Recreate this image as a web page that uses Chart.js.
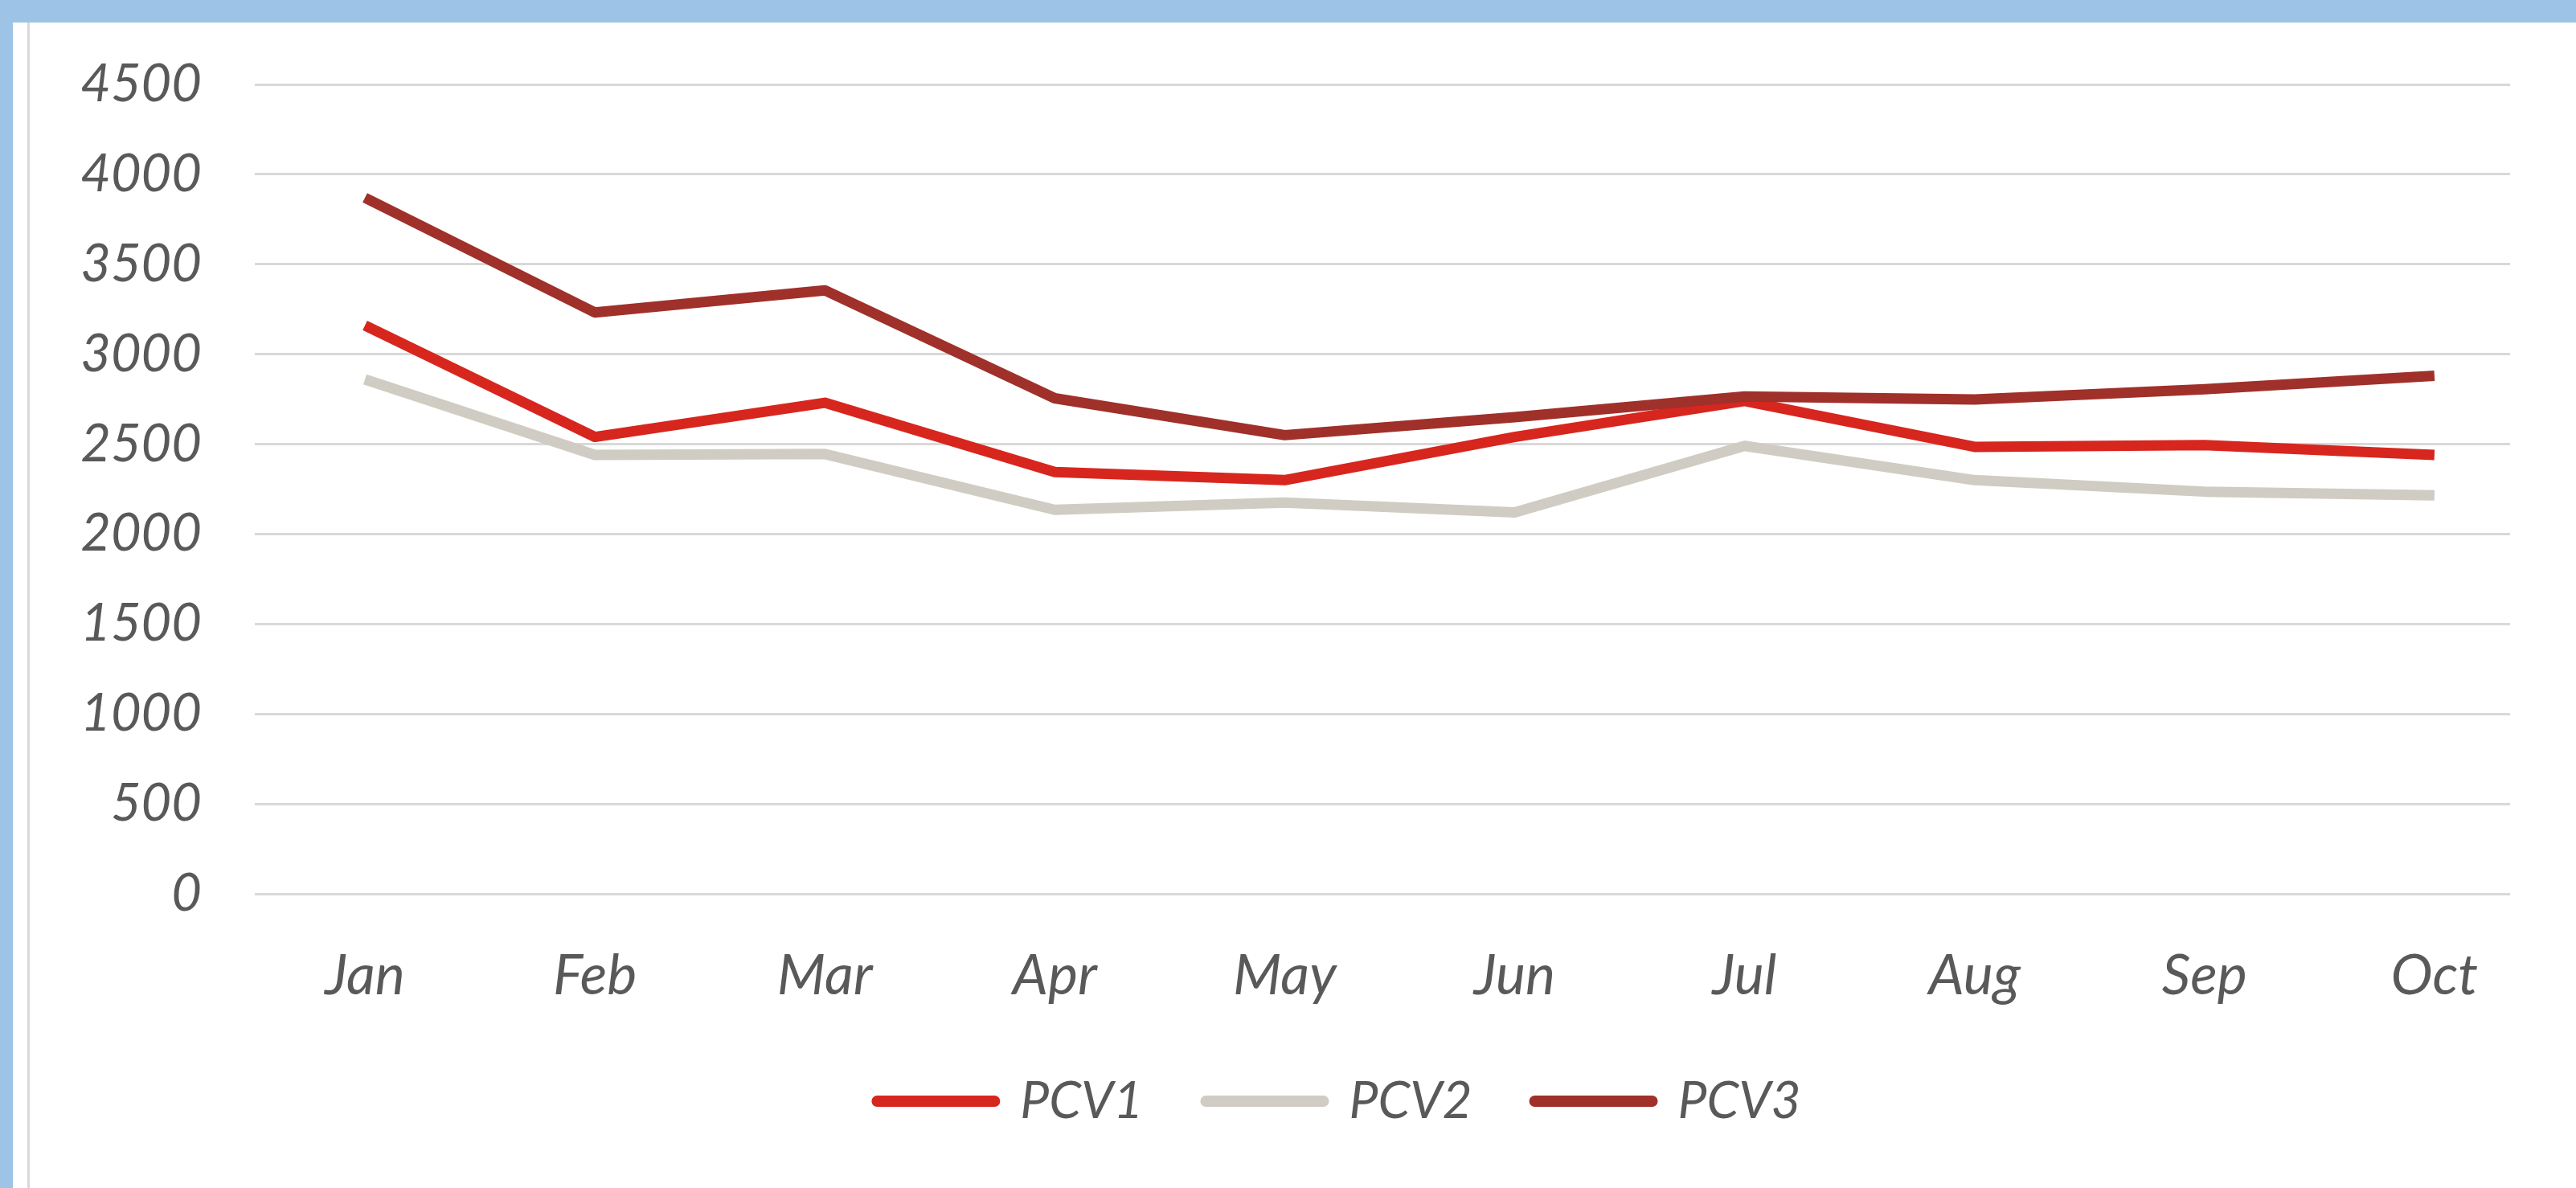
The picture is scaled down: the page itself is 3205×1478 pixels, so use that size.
<!DOCTYPE html>
<html>
<head>
<meta charset="utf-8">
<script src="https://cdn.jsdelivr.net/npm/chart.js@4.4.1/dist/chart.umd.min.js"></script>
<style>
  html, body { margin: 0; padding: 0; }
  body { width: 3205px; height: 1478px; background: #9DC3E6; position: relative; overflow: hidden; }
  #panel { position: absolute; left: 16px; top: 28px; right: 0; bottom: 0; background: #ffffff; }
  #vline { position: absolute; left: 34px; top: 28px; width: 3px; bottom: 0; background: #D9D9D9; }
  #wrap { position: absolute; left: 0; top: 0; width: 3205px; height: 1478px; }
</style>
</head>
<body>
<div id="panel"></div>
<div id="vline"></div>
<div id="wrap"><canvas id="c"></canvas></div>
<script>
const categories = ["Jan", "Feb", "Mar", "Apr", "May", "Jun", "Jul", "Aug", "Sep", "Oct"];
const pcv1 = [3160, 2540, 2730, 2345, 2300, 2540, 2740, 2485, 2495, 2440];
const pcv2 = [2860, 2440, 2445, 2135, 2175, 2120, 2490, 2300, 2236, 2215];
const pcv3 = [3870, 3232, 3355, 2755, 2550, 2650, 2765, 2748, 2805, 2880];
const seriesNames = ["PCV1", "PCV2", "PCV3"];
const yTicks = [0, 500, 1000, 1500, 2000, 2500, 3000, 3500, 4000, 4500];

const colors = ["#D7261E", "#D0CCC3", "#A0302A"];
const FONT = "Lato, 'Open Sans', sans-serif";

const shiftLegend = {
  id: 'shiftLegend',
  afterLayout(chart) {
    if (chart.legend) { chart.legend.left += 209; }
  }
};

new Chart(document.getElementById('c'), {
  type: 'line',
  plugins: [shiftLegend],
  data: {
    datasets: [pcv1, pcv2, pcv3].map((d, i) => ({
      label: seriesNames[i],
      data: d.map((v, k) => ({ x: k, y: v })),
      borderColor: colors[i],
      backgroundColor: colors[i],
      borderWidth: 13,
      borderCapStyle: 'butt',
      borderJoinStyle: 'round',
      pointRadius: 0,
      pointHoverRadius: 0,
      tension: 0,
      fill: false,
      order: 2 - i
    }))
  },
  options: {
    responsive: true,
    maintainAspectRatio: false,
    animation: false,
    devicePixelRatio: 1,
    layout: { padding: { top: 102, right: 82, bottom: 66, left: 0 } },
    plugins: {
      tooltip: { enabled: false },
      legend: {
        position: 'bottom',
        labels: {
          usePointStyle: true,
          pointStyleWidth: 146,
          boxHeight: 12,
          padding: 78,
          color: '#595959',
          font: { family: FONT, size: 64, style: 'italic' },
          sort: (a, b) => a.datasetIndex - b.datasetIndex,
          generateLabels: (chart) => chart.data.datasets.map((ds, i) => ({
            text: ds.label,
            fillStyle: ds.borderColor,
            strokeStyle: ds.borderColor,
            lineWidth: 14,
            lineCap: 'round',
            pointStyle: 'line',
            hidden: false,
            datasetIndex: i,
            fontColor: '#595959'
          }))
        }
      }
    },
    scales: {
      x: {
        type: 'linear',
        min: -0.479,
        max: 9.329,
        afterBuildTicks: (s) => { s.ticks = categories.map((c, k) => ({ value: k })); },
        grid: { display: false },
        border: { display: false },
        ticks: {
          color: '#595959',
          padding: 52,
          maxRotation: 0,
          autoSkip: false,
          font: { family: FONT, size: 70, style: 'italic' },
          callback: (v) => categories[v]
        },
        afterFit: (s) => { s.height = 148; }
      },
      y: {
        min: 0,
        max: 4500,
        afterBuildTicks: (s) => { s.ticks = yTicks.map(v => ({ value: v })); },
        grid: { color: '#D9D9D9', lineWidth: 3, drawTicks: false },
        border: { display: false },
        ticks: {
          color: '#595959',
          padding: 66,
          font: { family: FONT, size: 65, style: 'italic' },
          callback: (v) => String(v)
        },
        afterFit: (s) => { s.width = 317; }
      }
    }
  }
});
</script>
</body>
</html>
